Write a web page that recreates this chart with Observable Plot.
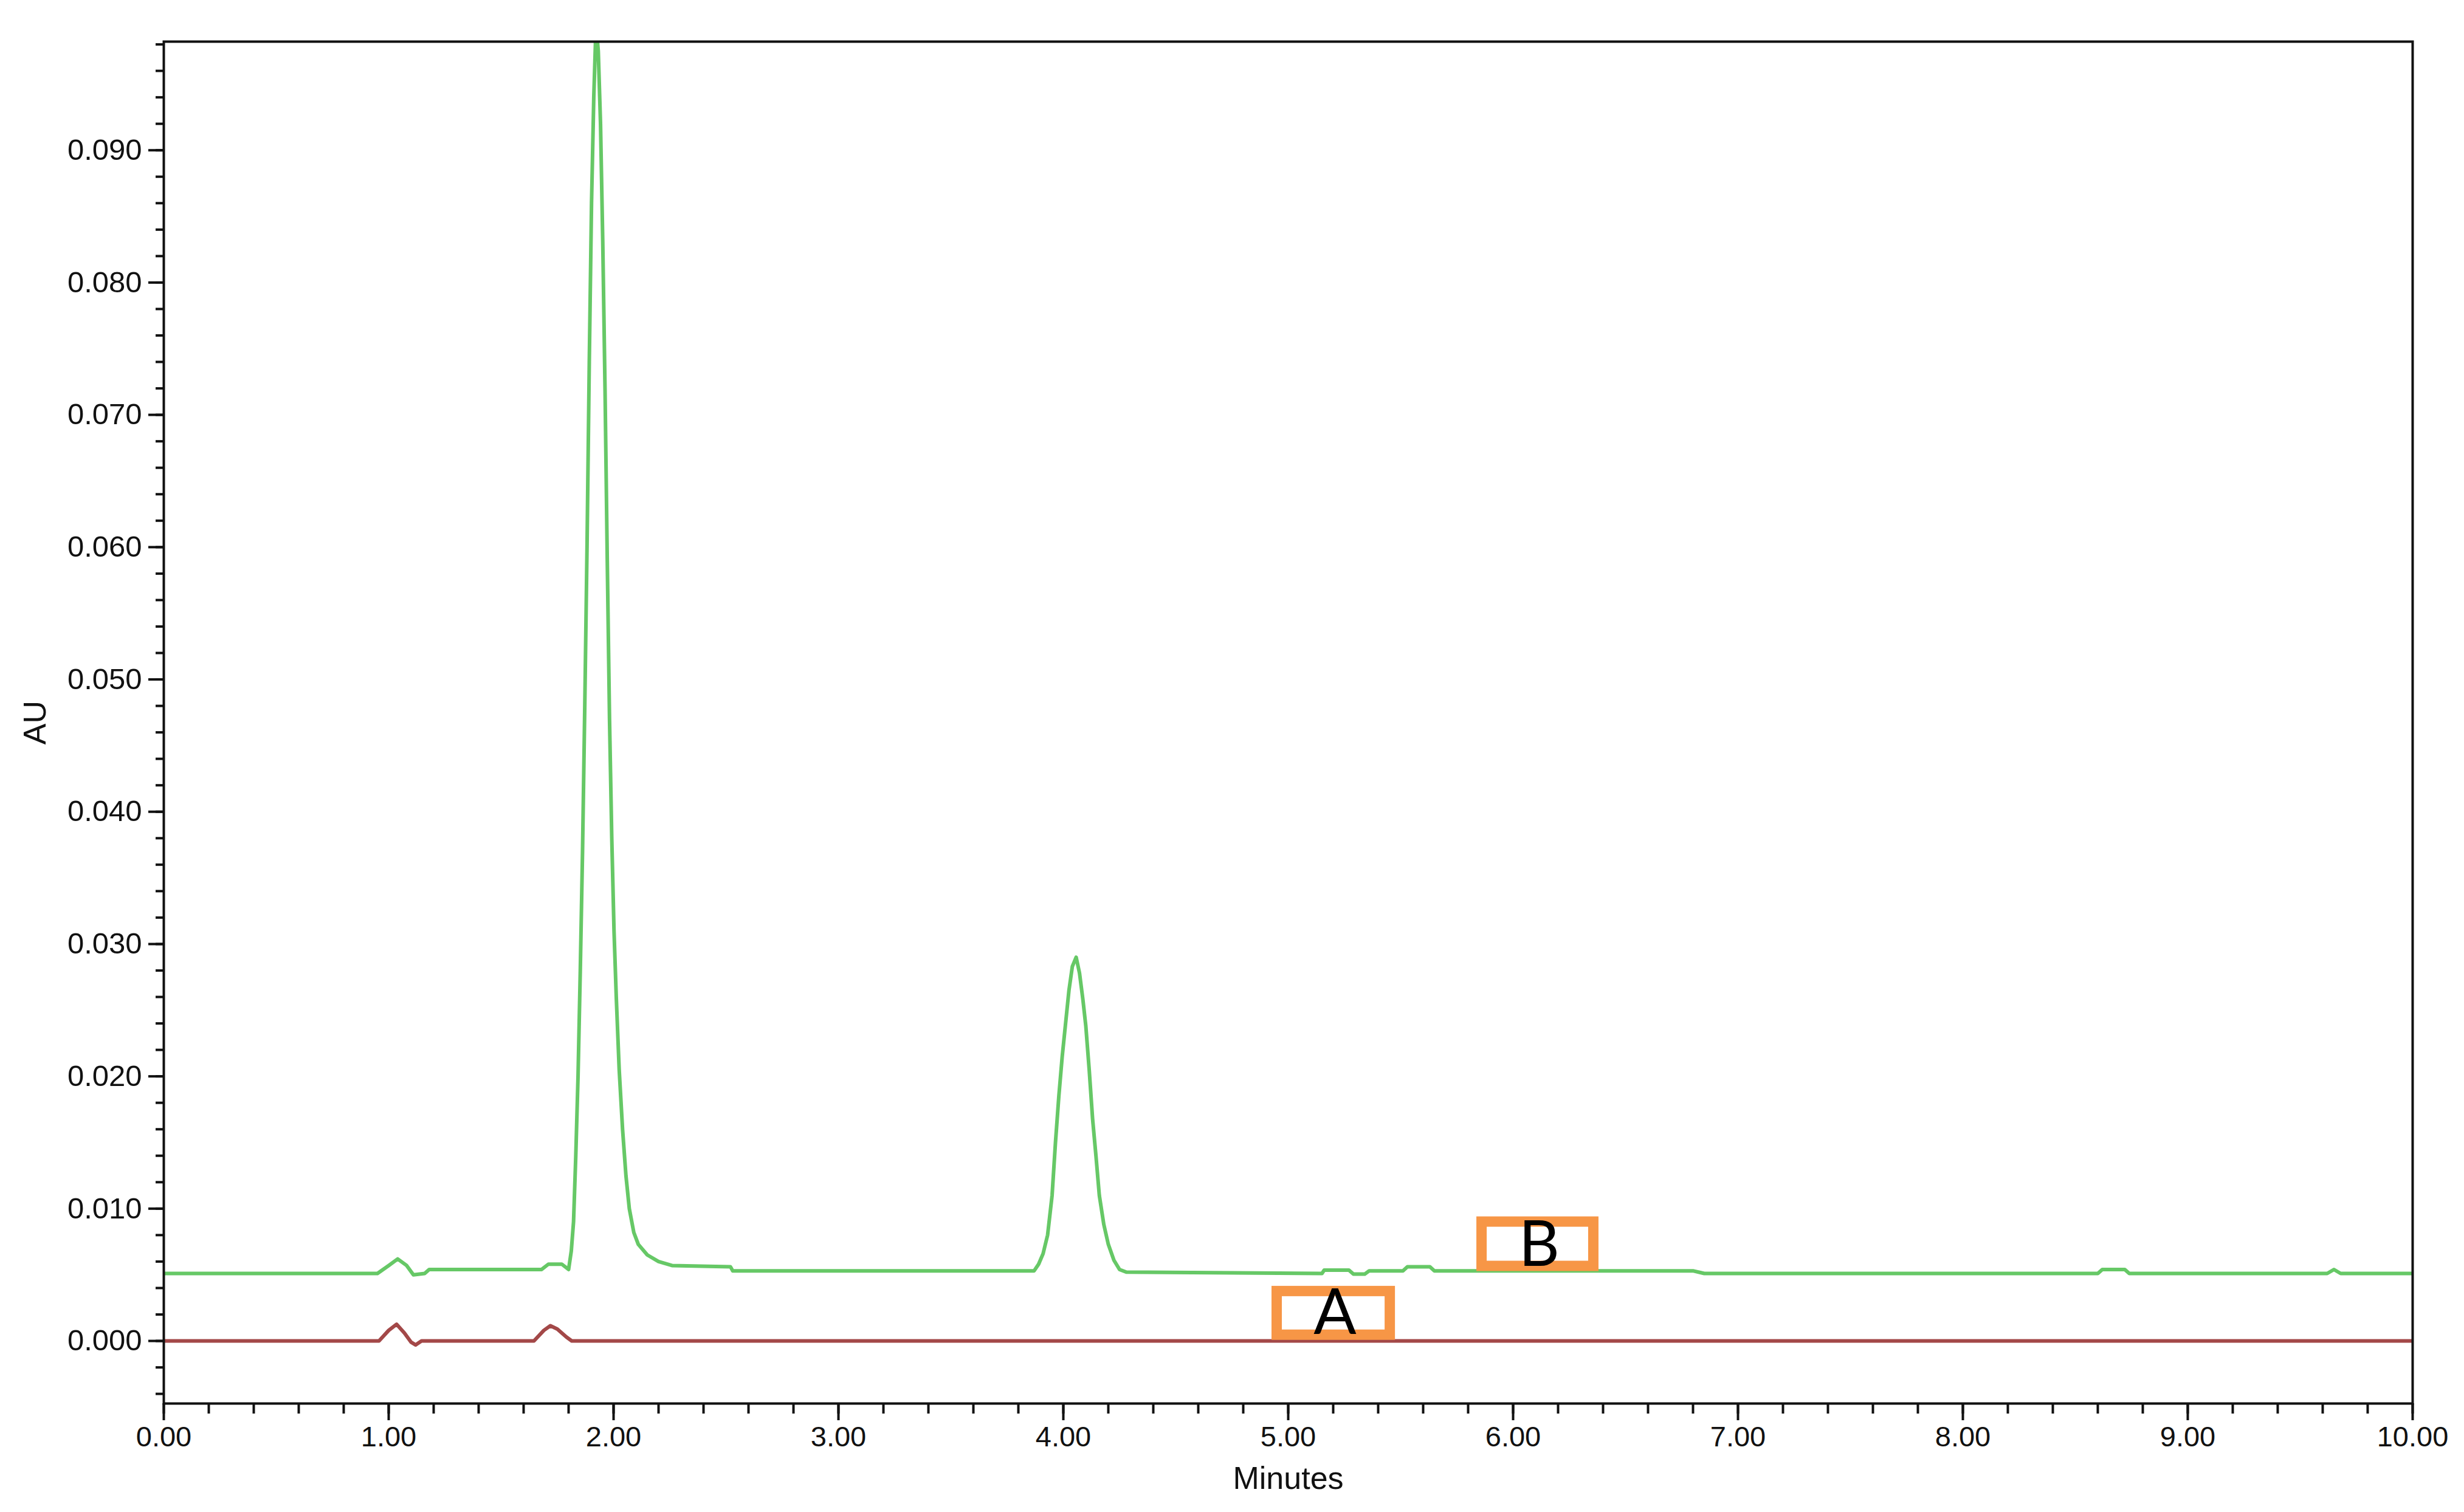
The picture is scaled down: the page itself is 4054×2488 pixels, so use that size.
<!DOCTYPE html>
<html>
<head>
<meta charset="utf-8">
<script src="https://cdn.jsdelivr.net/npm/d3@7"></script>
<script src="https://cdn.jsdelivr.net/npm/@observablehq/plot@0.6"></script>
<style>
  html, body { margin: 0; padding: 0; background: #ffffff; }
  #chart { width: 4054px; height: 2488px; }
</style>
</head>
<body>
<div id="chart"></div>
<script>
// ---- Data ----
// Trace B (green)
const bTime = [0.00, 0.95, 1.00, 1.04, 1.08, 1.11, 1.16, 1.18, 1.68, 1.71, 1.77, 1.80,
  1.812, 1.822, 1.832, 1.842, 1.852, 1.862, 1.872, 1.882, 1.892, 1.902, 1.912, 1.922,
  1.932, 1.942, 1.952, 1.962, 1.972, 1.982, 1.992, 2.002, 2.012, 2.025, 2.040, 2.055,
  2.070, 2.090, 2.110, 2.150, 2.200, 2.260, 2.520, 2.530,
  3.870, 3.890, 3.910, 3.930, 3.950, 3.965, 3.980, 3.995, 4.010, 4.025, 4.040, 4.057,
  4.072, 4.087, 4.100, 4.115, 4.130, 4.145, 4.160, 4.180, 4.200, 4.225, 4.250, 4.280,
  5.15, 5.16, 5.27, 5.29, 5.34, 5.36, 5.51, 5.53, 5.63, 5.65, 6.80, 6.85,
  8.60, 8.62, 8.72, 8.74, 9.62, 9.65, 9.68, 10.00];
const bAU = [0.0051, 0.0051, 0.0057, 0.0062, 0.0057, 0.0050, 0.0051, 0.0054, 0.0054, 0.0058, 0.0058, 0.0054,
  0.0068, 0.0090, 0.0140, 0.0200, 0.0280, 0.0370, 0.0480, 0.0600, 0.0740, 0.0860, 0.0940, 0.0995,
  0.0975, 0.0920, 0.0830, 0.0720, 0.0590, 0.0470, 0.0380, 0.0310, 0.0260, 0.0205, 0.0160, 0.0125,
  0.0100, 0.0082, 0.0073, 0.0065, 0.0060, 0.0057, 0.0056, 0.0053,
  0.0053, 0.0058, 0.0066, 0.0080, 0.0110, 0.0150, 0.0185, 0.0215, 0.0240, 0.0265, 0.0283, 0.0290,
  0.0278, 0.0258, 0.0238, 0.0205, 0.0168, 0.0140, 0.0110, 0.0088, 0.0073, 0.0061, 0.0054, 0.0052,
  0.0051, 0.00535, 0.00535, 0.00505, 0.00505, 0.0053, 0.0053, 0.0056, 0.0056, 0.0053, 0.0053, 0.0051,
  0.0051, 0.0054, 0.0054, 0.0051, 0.0051, 0.0054, 0.0051, 0.0051];

// Trace A (red)
const aTime = [0.00, 0.957, 1.00, 1.035, 1.07, 1.10, 1.12, 1.146, 1.646, 1.69, 1.719, 1.75, 1.79, 1.814, 10.00];
const aAU   = [0.0000, 0.0000, 0.0008, 0.00126, 0.0006, -0.0001, -0.0003, 0.0000, 0.0000, 0.0008, 0.00115, 0.0009, 0.0003, 0.0000, 0.0000];

// Annotation boxes (data coordinates)
const boxLabels = ["A", "B"];
const boxX1 = [4.950, 5.861];
const boxX2 = [5.453, 6.358];
const boxY1 = [0.00045, 0.00565];
const boxY2 = [0.00375, 0.00900];
const textX = [5.208, 6.116];
const textY = [0.00205, 0.00720];

// Axes
const xTicks = [0, 1, 2, 3, 4, 5, 6, 7, 8, 9, 10];
const xTickLabels = ["0.00", "1.00", "2.00", "3.00", "4.00", "5.00", "6.00", "7.00", "8.00", "9.00", "10.00"];
const yTicks = [0, 0.01, 0.02, 0.03, 0.04, 0.05, 0.06, 0.07, 0.08, 0.09];
const yTickLabels = ["0.000", "0.010", "0.020", "0.030", "0.040", "0.050", "0.060", "0.070", "0.080", "0.090"];
const xMinor = d3.range(0, 10.001, 0.2).map(v => +v.toFixed(2));
const yMinor = d3.range(-0.004, 0.0985, 0.002).map(v => +v.toFixed(3));

const xDomain = [0, 10];
const yDomain = [-0.00473, 0.09821];

// ---- Build rows ----
const traceB = bTime.map((t, i) => ({t, au: bAU[i]}));
const traceA = aTime.map((t, i) => ({t, au: aAU[i]}));
const boxes = boxLabels.map((label, i) => ({label, x1: boxX1[i], x2: boxX2[i], y1: boxY1[i], y2: boxY2[i], tx: textX[i], ty: textY[i]}));

const font = "'Liberation Sans', Arial, sans-serif";

const chart = Plot.plot({
  width: 4054,
  height: 2488,
  marginLeft: 269,
  marginRight: 85,
  marginTop: 68,
  marginBottom: 179,
  style: {fontFamily: font, background: "#ffffff", color: "#111"},
  x: {domain: xDomain},
  y: {domain: yDomain},
  marks: [
    Plot.line(traceB, {x: "t", y: "au", stroke: "#66c866", strokeWidth: 6, clip: true}),
    Plot.line(traceA, {x: "t", y: "au", stroke: "#a34848", strokeWidth: 6, clip: true}),
    Plot.rect(boxes, {x1: "x1", x2: "x2", y1: "y1", y2: "y2", fill: "#ffffff", stroke: "#f79646", strokeWidth: 17}),
    Plot.text(boxes, {x: "tx", y: "ty", text: "label", fontSize: 104, fill: "#000", fontFamily: "Lato, 'Open Sans', sans-serif"}),
    Plot.axisY(yMinor, {tickSize: 13, strokeWidth: 4, text: null, label: null}),
    Plot.axisY(yTicks, {tickSize: 25, tickPadding: 11, strokeWidth: 4, fontSize: 49,
      tickFormat: d => yTickLabels[yTicks.indexOf(d)],
      label: "AU", labelAnchor: "center", labelOffset: 231, labelArrow: "none"}),
    Plot.axisX(xMinor, {tickSize: 17, strokeWidth: 4, text: null, label: null}),
    Plot.axisX(xTicks, {tickSize: 28, tickPadding: 9, strokeWidth: 4, fontSize: 47,
      tickFormat: d => xTickLabels[xTicks.indexOf(d)],
      label: "Minutes", labelAnchor: "center", labelOffset: 140, labelArrow: "none"}),
    Plot.frame({stroke: "#111", strokeWidth: 4})
  ]
});
chart.querySelectorAll("g[aria-label='y-axis label'] text, g[aria-label='x-axis label'] text").forEach(t => t.setAttribute("font-size", "52"));
document.getElementById("chart").appendChild(chart);
</script>
</body>
</html>
